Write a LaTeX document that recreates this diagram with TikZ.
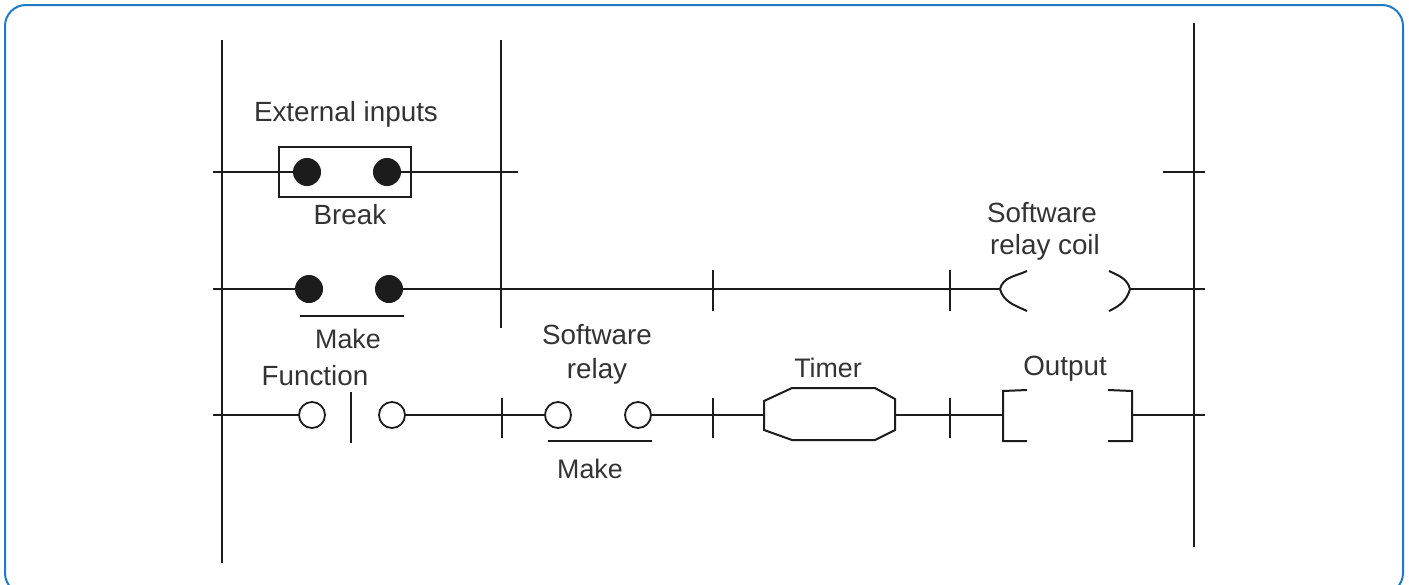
\documentclass[tikz,border=0pt]{standalone}
\usepackage{fontspec}
\setmainfont{Liberation Sans}
\definecolor{frameblue}{HTML}{1F78C8}
\definecolor{ink}{HTML}{1C1C1C}
\definecolor{txt}{HTML}{333333}
\begin{document}
\begin{tikzpicture}[x=1pt,y=-1pt,
  wire/.style={line width=2pt, draw=ink},
  rail/.style={line width=2.6pt, draw=ink},
  dotc/.style={circle, fill=ink, inner sep=0pt, minimum size=28pt},
  opc/.style={circle, draw=ink, line width=1.8pt, inner sep=0pt, minimum size=26pt, fill=white},
  lbl/.style={font=\fontsize{27.8}{34}\selectfont, text=txt, inner sep=0pt, anchor=base},
  lblsm/.style={lbl, font=\fontsize{26.8}{34}\selectfont},
  frame/.style={draw=frameblue, line width=2pt, rounded corners=21pt}]
\clip (0,0) rectangle (1409,584);
\fill[white] (0,0) rectangle (1409,584);
\draw[frame] (5,5) rectangle (1403,594);

% rails
\coordinate (LT) at (222,40); \coordinate (LB) at (222,563);
\coordinate (MT) at (501,40); \coordinate (MB) at (501,328);
\coordinate (RT) at (1194,23); \coordinate (RB) at (1194,547);
\draw[rail] (LT) -- (LB);
\draw[rail] (MT) -- (MB);
\draw[rail] (RT) -- (RB);

% rung 1: break contact
\coordinate (r1L) at (213,172); \coordinate (r1R) at (518,172);
\node[draw=ink, line width=2pt, minimum width=132pt, minimum height=50pt, inner sep=0pt] (brk) at (345,172) {};
\node[dotc] (b1) at (307,172) {};
\node[dotc] (b2) at (387,172) {};
\draw[wire] (r1L) -- (b1);
\draw[wire] (b2) -- (r1R);
\coordinate (t0L) at (1163,172); \coordinate (t0R) at (1205,172);
\draw[wire] (t0L) -- (t0R);
\node[lbl] (ext) at (346,121) {External inputs};
\node[lbl] (brkl) at (350,224) {Break};

% rung 2: make contact and coil
\coordinate (r2L) at (213,289); \coordinate (r2R) at (1205,289);
\node[dotc] (m1) at (309,289) {};
\node[dotc] (m2) at (389,289) {};
\coordinate (cl) at (1000,289); \coordinate (cr) at (1130,289);
\draw[wire] (r2L) -- (m1);
\draw[wire] (m2) -- (cl);
\draw[wire] (1027,271) to[out=205,in=75] (cl) to[out=-75,in=155] (1027,311);
\draw[wire] (1109,271) to[out=-25,in=105] (cr) to[out=-105,in=25] (1109,311);
\draw[wire] (cr) -- (r2R);
\draw[wire] (713,270) -- (713,311);
\draw[wire] (950,270) -- (950,311);
\coordinate (u1a) at (300,316); \coordinate (u1b) at (404,316);
\draw[wire] (u1a) -- (u1b);
\node[lblsm] (make1) at (348,348) {Make};
\node[lbl] (sw1) at (1042,222) {Software};
\node[lbl] (sw2) at (1045,254) {relay coil};

% rung 3
\coordinate (r3L) at (213,415); \coordinate (r3R) at (1205,415);
\node[opc] (f1) at (312,415) {};
\node[opc] (f2) at (392,415) {};
\node[opc] (s1) at (558,415) {};
\node[opc] (s2) at (638,415) {};
\coordinate (tmL) at (764,415); \coordinate (tmR) at (895,415);
\coordinate (oL) at (1003,415); \coordinate (oR) at (1132,415);
\draw[wire] (r3L) -- (f1);
\draw[wire] (f2) -- (s1);
\draw[wire] (s2) -- (tmL);
\draw[wire, line width=1.6pt] (tmR) -- (oL);
\draw[wire] (oR) -- (r3R);
\draw[wire] (351,392) -- (351,443);
\draw[wire] (502,398) -- (502,438);
\draw[wire] (713,398) -- (713,438);
\draw[wire] (950,398) -- (950,438);
\draw[wire] (764,401) -- (792,388) -- (875,388) -- (895,399) -- (895,430) -- (875,440) -- (792,440) -- (764,430) -- cycle;
\draw[wire] (1027,390) -- (1003,391) -- (1003,441) -- (1027,441);
\draw[wire] (1108,390) -- (1132,391) -- (1132,441) -- (1108,441);
\coordinate (u2a) at (548,441); \coordinate (u2b) at (652,441);
\draw[wire] (u2a) -- (u2b);
\node[lbl] (fn) at (315,385) {Function};
\node[lbl] (sr1) at (597,344) {Software};
\node[lbl] (sr2) at (597,378) {relay};
\node[lblsm] (make2) at (590,478) {Make};
\node[lblsm] (tim) at (828,377) {Timer};
\node[lbl] (out) at (1065,375) {Output};
\end{tikzpicture}
\end{document}
